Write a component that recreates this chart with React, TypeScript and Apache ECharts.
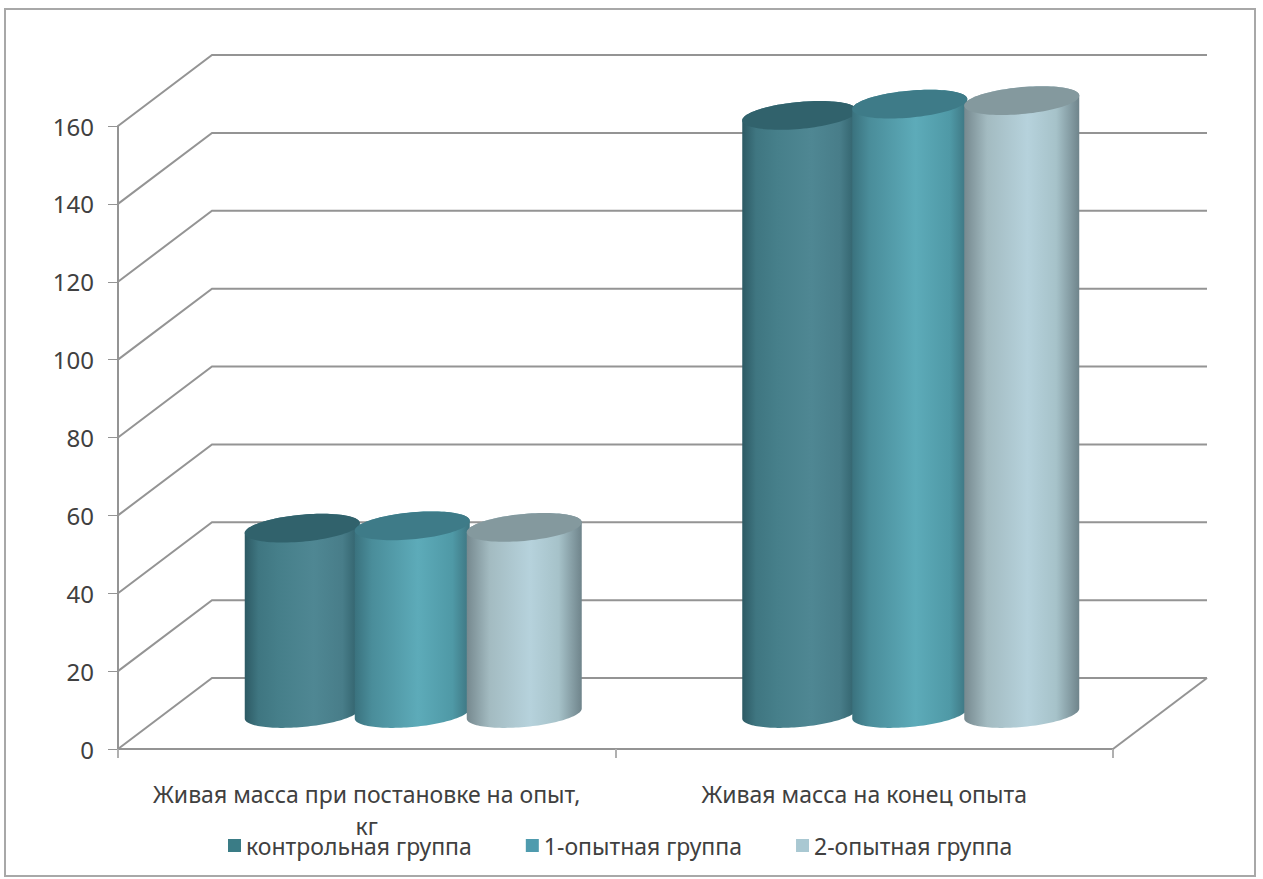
import React, { useEffect, useRef } from "react";
import * as echarts from "echarts";

const categories = ["Живая масса при постановке на опыт,\nкг", "Живая масса на конец опыта"];
const groupNames = ["контрольная группа", "1-опытная группа", "2-опытная группа"];
const controlGroup = [47.6, 153.6];
const firstGroup = [48.2, 156.5];
const secondGroup = [47.8, 157.4];
const yTicks = [0, 20, 40, 60, 80, 100, 120, 140, 160];

// Depth of the pseudo-3D box, in pixels
const DEPTH_X = 94;
const DEPTH_Y = 71;
// Cylinder geometry, in pixels
const RADIUS = 57.5;
const ELLIPSE_B = 13.5;
const ELLIPSE_SHEAR = 5;
const OFFSETS = [-111.5, -1.5, 110.5];

const WALL_COLOR = "#949494";
const TEXT_COLOR = "#404040";

const stops = (list: [number, string][]) => list.map(([offset, color]) => ({ offset, color }));

const palettes = [
  {
    legend: "#3a7c86",
    top: "#31626c",
    side: stops([[0, "#2d5a64"], [0.12, "#3f7681"], [0.3, "#467f8a"], [0.6, "#4f8793"], [0.85, "#487d89"], [1, "#2f5f69"]]),
  },
  {
    legend: "#4f9bae",
    top: "#3e7b88",
    side: stops([[0, "#3a727e"], [0.15, "#4a8d9a"], [0.55, "#5dabb9"], [0.85, "#4f99a6"], [1, "#3d7480"]]),
  },
  {
    legend: "#a9c8d2",
    top: "#84999e",
    side: stops([[0, "#76898f"], [0.2, "#a3bbc1"], [0.55, "#b6d2dc"], [0.8, "#a6c2c9"], [1, "#6f848b"]]),
  },
];

// Outline point of the sheared ellipse that caps a cylinder
const rim = (cx: number, cy: number, t: number): number[] => [
  cx + RADIUS * Math.cos(t),
  cy + ELLIPSE_B * Math.sin(t) - ELLIPSE_SHEAR * Math.cos(t),
];

const arcPoints = (cx: number, cy: number, from: number, to: number, steps = 64) =>
  Array.from({ length: steps + 1 }, (_, i) => rim(cx, cy, from + ((to - from) * i) / steps));

const cylinderSeries = (name: string, values: number[], index: number) => ({
  type: "custom",
  name,
  itemStyle: { color: palettes[index].legend },
  encode: { x: 0, y: 1 },
  data: values.map((v, i) => [i, v]),
  renderItem: (_: unknown, api: any) => {
    const cat = api.value(0);
    const base = api.coord([cat, 0]);
    const head = api.coord([cat, api.value(1)]);
    const cx = base[0] + DEPTH_X / 2 + OFFSETS[index];
    const baseY = base[1] - DEPTH_Y / 2;
    const topY = head[1] - DEPTH_Y / 2;
    const side = [
      ...arcPoints(cx, baseY, 0, Math.PI),
      ...arcPoints(cx, topY, Math.PI, 2 * Math.PI),
    ];
    const cap = arcPoints(cx, topY, 0, 2 * Math.PI, 96);
    const fill = new echarts.graphic.LinearGradient(0, 0, 1, 0, palettes[index].side);
    return {
      type: "group",
      children: [
        { type: "polygon", shape: { points: side }, style: { fill } },
        { type: "polygon", shape: { points: cap }, style: { fill: palettes[index].top } },
      ],
    };
  },
});

// Gridlines running along the side wall and the back wall, plus the floor's right edge
const wallSeries = {
  type: "custom",
  name: "wall",
  silent: true,
  encode: { x: 0, y: 1 },
  data: yTicks.map((v) => [0, v]),
  renderItem: (params: any, api: any) => {
    const v = api.value(1);
    const y = api.coord([0, v])[1];
    const sys = params.coordSys;
    const x0 = sys.x;
    const x1 = sys.x + sys.width;
    const children: any[] = [
      {
        type: "polyline",
        shape: {
          points: [
            [x0, y],
            [x0 + DEPTH_X, y - DEPTH_Y],
            [x1 + DEPTH_X, y - DEPTH_Y],
          ],
        },
        style: { stroke: WALL_COLOR, lineWidth: 2, fill: "none" },
      },
    ];
    if (v === 0) {
      children.push({
        type: "line",
        shape: { x1, y1: y, x2: x1 + DEPTH_X, y2: y - DEPTH_Y },
        style: { stroke: WALL_COLOR, lineWidth: 2 },
      });
    }
    return { type: "group", children };
  },
};

export default function App() {
  const ref = useRef<HTMLDivElement>(null);

  useEffect(() => {
    const chart = echarts.init(ref.current!, undefined, { renderer: "svg" });
    chart.setOption({
      animation: false,
      backgroundColor: "#ffffff",
      graphic: [
        {
          type: "rect",
          shape: { x: 5, y: 9, width: 1250, height: 867 },
          style: { fill: "none", stroke: "#a8a8a8", lineWidth: 2 },
          silent: true,
        },
      ],
      grid: { left: 118, top: 126, width: 995, height: 623 },
      xAxis: {
        type: "category",
        data: categories,
        axisLine: { lineStyle: { color: WALL_COLOR, width: 2 } },
        axisTick: { show: true, length: 9, lineStyle: { color: "#b0b0b0", width: 2 } },
        axisLabel: {
          interval: 0,
          margin: 29,
          color: TEXT_COLOR,
          fontFamily: "Noto Sans",
          fontSize: 23,
          lineHeight: 32,
        },
      },
      yAxis: {
        type: "value",
        min: 0,
        max: 160,
        interval: 20,
        axisLine: { show: true, lineStyle: { color: WALL_COLOR, width: 2 } },
        axisTick: { show: true, length: 10, lineStyle: { color: WALL_COLOR, width: 1 } },
        splitLine: { show: false },
        axisLabel: {
          margin: 24,
          color: TEXT_COLOR,
          fontFamily: "Noto Sans",
          fontSize: 24,
        },
      },
      legend: {
        left: 228,
        top: 834,
        itemWidth: 13,
        itemHeight: 13,
        itemGap: 54,
        padding: 0,
        selectedMode: false,
        icon: "rect",
        textStyle: {
          color: TEXT_COLOR,
          fontFamily: "Noto Sans",
          fontSize: 23,
          lineHeight: 18,
        },
        data: groupNames.map((name, i) => ({ name, itemStyle: { color: palettes[i].legend } })),
      },
      series: [
        wallSeries,
        cylinderSeries(groupNames[0], controlGroup, 0),
        cylinderSeries(groupNames[1], firstGroup, 1),
        cylinderSeries(groupNames[2], secondGroup, 2),
      ],
    });
    return () => chart.dispose();
  }, []);

  return (
    <div
      ref={ref}
      style={{ position: "absolute", left: 0, top: 0, width: 1263, height: 879 }}
    />
  );
}
